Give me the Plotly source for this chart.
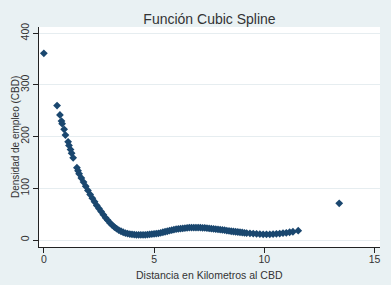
import plotly.graph_objects as go

# Distance to CBD (km) and fitted employment density (cubic spline)
dist_km = [
    0.0, 0.6, 0.73, 0.8, 0.83, 0.92, 0.98, 1.1, 1.14, 1.21, 1.26, 1.33, 1.5, 1.55,
    1.6, 1.7, 1.8, 1.9, 2.0, 2.1, 2.2, 2.3, 2.4, 2.5, 2.6, 2.7, 2.8, 2.9,
    3.0, 3.1, 3.2, 3.3, 3.4, 3.5, 3.6, 3.7, 3.8, 3.9,
    4.0, 4.1, 4.2, 4.3, 4.4, 4.5, 4.6, 4.7, 4.8, 4.9,
    5.0, 5.1, 5.2, 5.3, 5.4, 5.5, 5.6, 5.7, 5.8, 5.9,
    6.0, 6.1, 6.2, 6.3, 6.4, 6.5, 6.6, 6.7, 6.8, 6.9,
    7.0, 7.1, 7.2, 7.3, 7.4, 7.5, 7.6, 7.7, 7.8, 7.9,
    8.0, 8.1, 8.2, 8.3, 8.4, 8.5, 8.6, 8.7, 8.8, 8.9,
    9.0, 9.1, 9.2, 9.35, 9.5, 9.65, 9.8, 9.95,
    10.1, 10.25, 10.4, 10.55, 10.7, 10.85, 11.0, 11.15, 11.3, 11.54,
    13.4,
]
densidad = [
    361, 260, 242, 230, 225, 214, 203, 190, 183, 175, 168, 159, 140, 134,
    128, 120, 112, 104, 96, 88, 81, 74, 67, 61, 55, 49, 43, 38,
    33, 29, 25, 22, 19, 17, 15, 13.5, 12.5, 11.5,
    11, 10.5, 10, 10, 10, 10, 10, 10.5, 11, 11.5,
    12, 12.5, 13, 14, 15, 16, 17, 18, 19, 20,
    21, 21.5, 22, 22.5, 23, 23.5, 24, 24, 24, 24,
    24, 24, 23.5, 23.5, 23, 22.5, 22, 21.5, 21, 20.5,
    20, 19.5, 19, 18, 17.5, 17, 16.5, 16, 15.5, 15,
    14.5, 14, 13.5, 13, 12.5, 12, 11.5, 11,
    11, 11, 11.5, 12, 12.5, 13.5, 14, 15, 16, 18,
    71,
]

x_ticks = [0, 5, 10, 15]
y_ticks = [0, 100, 200, 300, 400]
title_text = "Función Cubic Spline"
x_title = "Distancia en Kilometros al CBD"
y_title = "Densidad de empleo (CBD)"

NAVY = "#1a476f"
BG = "#e9f1f3"
GRID = "#e6edf0"
TXT = "#333333"
FONT = "Liberation Sans, Arial, sans-serif"

fig = go.Figure(
    go.Scatter(
        x=dist_km, y=densidad, mode="markers",
        marker=dict(symbol="diamond", size=6, color=NAVY, line=dict(width=0)),
        showlegend=False,
    )
)

fig.update_layout(
    width=391, height=285,
    margin=dict(l=39, r=11, t=27, b=38),
    paper_bgcolor=BG, plot_bgcolor="white",
    font=dict(family=FONT, size=10, color=TXT),
    title=dict(text=title_text, x=0.5, xref="paper", xanchor="center",
               y=0.933, yref="container", yanchor="middle",
               font=dict(size=14, color=TXT, family=FONT)),
    annotations=[
        dict(text=x_title, xref="paper", yref="paper", x=0.5, y=-0.127,
             xanchor="center", yanchor="middle", showarrow=False,
             font=dict(size=10.5, color=TXT)),
        dict(text=y_title, xref="paper", yref="paper", x=-0.0704, y=0.5,
             xanchor="center", yanchor="middle", showarrow=False, textangle=-90,
             font=dict(size=10, color=TXT)),
    ],
)

fig.update_xaxes(
    range=[-0.22, 15.25], tickvals=x_ticks, ticktext=[str(v) for v in x_ticks],
    showline=True, linecolor="#222222", linewidth=1,
    ticks="outside", ticklen=5, tickcolor="#222222",
    showgrid=False, zeroline=False, automargin=False,
    ticklabeloverflow="allow", ticklabelstandoff=-3,
    tickfont=dict(size=10.5, color=TXT),
)
fig.update_yaxes(
    range=[-13.5, 412], tickvals=y_ticks, ticktext=[str(v) for v in y_ticks],
    showline=True, linecolor="#222222", linewidth=1,
    ticks="outside", ticklen=5, tickcolor="#222222",
    showgrid=True, gridcolor=GRID, gridwidth=1, zeroline=False,
    tickangle=-90, automargin=False, ticklabeloverflow="allow",
    tickfont=dict(size=10.5, color=TXT),
)

fig.write_html("out.html", post_script="document.body.style.margin='0px';",
               config={"displayModeBar": False})
